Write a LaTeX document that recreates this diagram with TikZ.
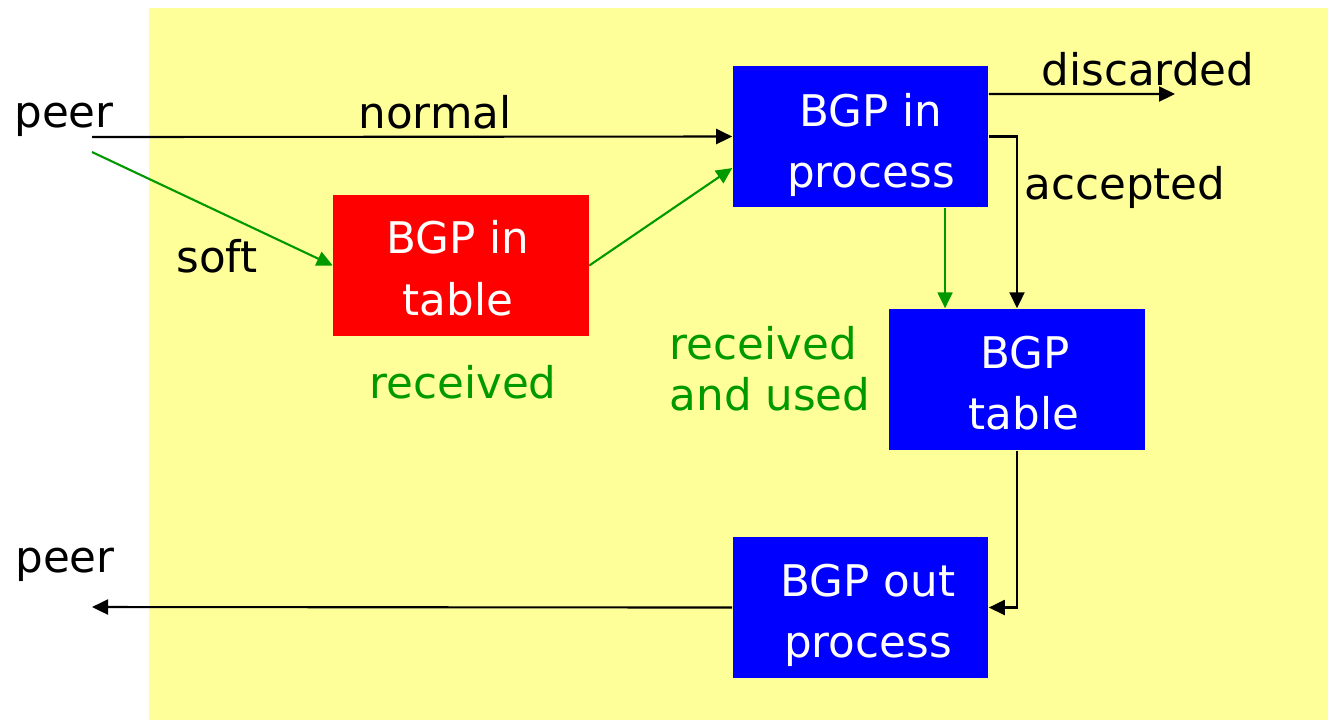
\documentclass[tikz,border=0pt]{standalone}
\usepackage{fontspec}
\setmainfont{DejaVu Sans}
\usetikzlibrary{arrows.meta}
\definecolor{bgyellow}{RGB}{255,255,153}
\definecolor{boxblue}{RGB}{0,0,255}
\definecolor{boxred}{RGB}{255,0,0}
\definecolor{flowgreen}{RGB}{0,153,0}
\begin{document}
\begin{tikzpicture}[x=0.01cm,y=-0.01cm,
  box/.style={rectangle, minimum width=2.55cm, minimum height=1.41cm, inner sep=0pt},
  bluebox/.style={box, fill=boxblue},
  redbox/.style={box, fill=boxred},
  lbl/.style={font=\fontsize{12.4}{14.2}\selectfont, inner sep=0pt, anchor=base},
  boxtext/.style={lbl, text=white},
  glbl/.style={lbl, text=flowgreen},
  flow/.style={line width=0.6pt, -{Triangle[length=0.16cm, width=0.15cm]}},
  gflow/.style={flow, draw=flowgreen, fill=flowgreen}]
\useasboundingbox (0,0) rectangle (1328,720);
\fill[bgyellow] (149,8) rectangle (1328,720);

% boxes
\node[bluebox] (proc) at (860.5,136.5) {};
\node[boxtext] (proc1) at (871,126) {BGP in};
\node[boxtext] (proc2) at (871,187) {process};
\node[redbox] (tab) at (461,265.5) {};
\node[boxtext] (tab1) at (458,253) {BGP in};
\node[boxtext] (tab2) at (458,315) {table};
\node[bluebox, minimum width=2.56cm] (table) at (1017,379.5) {};
\node[boxtext] (table1) at (1025,368) {BGP};
\node[boxtext] (table2) at (1024,429) {table};
\node[bluebox] (out) at (860.5,607.5) {};
\node[boxtext] (out1) at (868,596) {BGP out};
\node[boxtext] (out2) at (868,657) {process};

% free ends
\coordinate (peerin) at (92,137);
\coordinate (peersoft) at (92,152);
\coordinate (disc) at (1175,94);
\coordinate (peerout) at (92,607);

% labels
\node[lbl] (peer1) at (64,127) {peer};
\node[lbl] (peer2) at (65,572) {peer};
\node[lbl] (normal) at (435,128) {normal};
\node[lbl] (soft) at (217,272) {soft};
\node[lbl] (discl) at (1148,85) {discarded};
\node[lbl] (accl) at (1125,199) {accepted};
\node[glbl] (recv) at (463,398) {received};
\node[glbl, anchor=base west] (recv2) at (669,359) {received};
\node[glbl, anchor=base west] (used) at (669,410) {and used};

% connectors
\draw[flow] (peerin) -- (proc.west);
\draw[gflow] (peersoft) -- (tab.west);
\draw[gflow] (tab.east) -- ([yshift=-0.315cm]proc.west);
\draw[flow] ([yshift=0.425cm]proc.east) -- (disc);
\draw[flow] (proc.east) -| (table.north);
\draw[gflow] ([xshift=0.845cm]proc.south) -- ([xshift=0.845cm]proc.south |- table.north);
\draw[flow] (table.south) |- (out.east);
\draw[flow] (out.west) -- (peerout);
\end{tikzpicture}
\end{document}
